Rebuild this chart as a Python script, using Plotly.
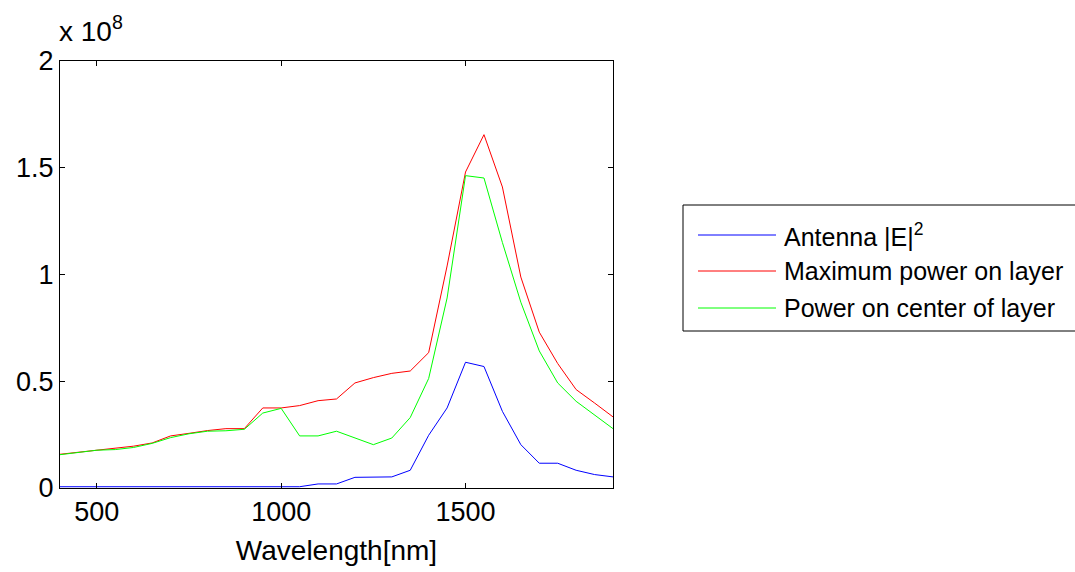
import plotly.graph_objects as go

# Wavelength sweep (nm)
wavelength = [400, 450, 500, 550, 600, 650, 700, 750, 800, 850, 900, 950, 1000,
              1050, 1100, 1150, 1200, 1250, 1300, 1350, 1400, 1450, 1500, 1550,
              1600, 1650, 1700, 1750, 1800, 1850, 1900]

# Values in units of 1e8
antenna_e2 = [0.006, 0.006, 0.006, 0.006, 0.006, 0.006, 0.006, 0.006, 0.006, 0.006,
              0.006, 0.006, 0.006, 0.006, 0.019, 0.019, 0.050, 0.052, 0.052, 0.083,
              0.247, 0.375, 0.589, 0.569, 0.359, 0.203, 0.116, 0.116, 0.083, 0.063,
              0.052]
max_power = [0.158, 0.168, 0.178, 0.185, 0.196, 0.211, 0.244, 0.256, 0.269, 0.278,
             0.278, 0.375, 0.375, 0.386, 0.409, 0.417, 0.492, 0.517, 0.537, 0.548,
             0.634, 1.040, 1.480, 1.655, 1.410, 0.988, 0.730, 0.583, 0.461, 0.398,
             0.333]
center_power = [0.156, 0.167, 0.177, 0.180, 0.190, 0.209, 0.236, 0.254, 0.266, 0.268,
                0.275, 0.351, 0.373, 0.244, 0.244, 0.266, 0.234, 0.203, 0.234, 0.330,
                0.513, 0.890, 1.463, 1.452, 1.150, 0.870, 0.642, 0.492, 0.406, 0.341,
                0.278]

series_names = ["Antenna |E|<sup>2</sup>", "Maximum power on layer",
                "Power on center of layer"]
series_colors = ["#0000FF", "#FF0000", "#00FF00"]
series_values = [antenna_e2, max_power, center_power]

x_ticks = [500, 1000, 1500]
y_ticks = [0, 0.5, 1, 1.5, 2]
y_tick_text = ["0", "0.5", "1", "1.5", "2"]

W, H = 1075, 572
ML, MR, MT, MB = 60, 462, 61, 84
PW, PH = W - ML - MR, H - MT - MB
FONT = "Liberation Sans, Arial, Helvetica, sans-serif"


def px(xp):
    return (xp - ML) / PW


def py(yp):
    return 1 - (yp - MT) / PH


fig = go.Figure()
for name, col, vals in zip(series_names, series_colors, series_values):
    fig.add_trace(go.Scatter(x=wavelength, y=vals, mode="lines", name=name,
                             line=dict(color=col, width=1), showlegend=False))

axis_common = dict(showline=True, linecolor="black", linewidth=1, mirror="ticks",
                   ticks="inside", ticklen=5, tickwidth=1, tickcolor="black",
                   showgrid=False, zeroline=False,
                   tickfont=dict(family=FONT, size=27, color="black"))

fig.update_xaxes(range=[400, 1900], tickvals=x_ticks,
                 title=dict(text="Wavelength[nm]",
                            font=dict(family=FONT, size=28, color="black"),
                            standoff=13),
                 **axis_common)
fig.update_yaxes(range=[0, 2], tickvals=y_ticks, ticktext=y_tick_text,
                 **axis_common)

# Exponent label above the y axis
fig.add_annotation(x=px(57), y=py(49), xref="paper", yref="paper",
                   xanchor="left", yanchor="bottom", showarrow=False,
                   text="x 10<sup>8</sup>",
                   font=dict(family=FONT, size=28, color="black"))

# Legend box
shapes = [dict(type="rect", xref="paper", yref="paper",
               x0=px(683), x1=px(1080), y0=py(331), y1=py(205),
               line=dict(color="black", width=1), fillcolor="white", layer="below")]
row_y = [235, 271, 308]
for name, col, ry in zip(series_names, series_colors, row_y):
    shapes.append(dict(type="line", xref="paper", yref="paper",
                       x0=px(698), x1=px(776), y0=py(ry), y1=py(ry),
                       line=dict(color=col, width=1)))
    fig.add_annotation(x=px(782), y=py(ry), xref="paper", yref="paper",
                       xanchor="left", yanchor="middle", showarrow=False,
                       text=name, font=dict(family=FONT, size=25, color="black"))

fig.update_layout(width=W, height=H, margin=dict(l=ML, r=MR, t=MT, b=MB),
                  paper_bgcolor="white", plot_bgcolor="white", shapes=shapes,
                  font=dict(family=FONT, color="black"))

fig.write_html("out.html")
